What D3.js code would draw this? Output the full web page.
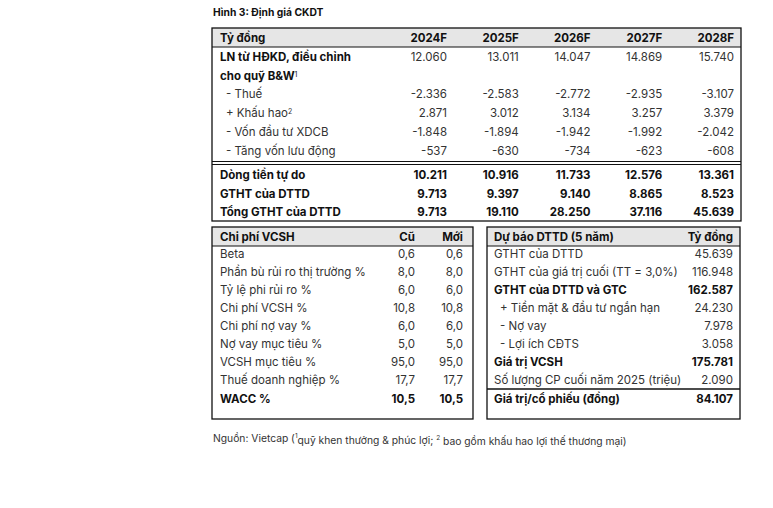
<!DOCTYPE html>
<html>
<head>
<meta charset="utf-8">
<script src="https://cdn.jsdelivr.net/npm/d3@7"></script>
<style>
  body { margin: 0; background: #fff; }
  svg text { font-family: "Inter", "Noto Sans", sans-serif; }
</style>
</head>
<body>
<div id="chart"></div>
<script>
// top table: free cash flow forecast (ty dong)
const years = ["2024F", "2025F", "2026F", "2027F", "2028F"];
const fcfLabels = ["LN từ HĐKD, điều chỉnh", "- Thuế", "+ Khấu hao", "- Vốn đầu tư XDCB", "- Tăng vốn lưu động",
  "Dòng tiền tự do", "GTHT của DTTD", "Tổng GTHT của DTTD"];
const lnHdkd = [12060, 13011, 14047, 14869, 15740];
const thue = [-2336, -2583, -2772, -2935, -3107];
const khauHao = [2871, 3012, 3134, 3257, 3379];
const vonXdcb = [-1848, -1894, -1942, -1992, -2042];
const vonLuuDong = [-537, -630, -734, -623, -608];
const dongTien = [10211, 10916, 11733, 12576, 13361];
const gthtDttd = [9713, 9397, 9140, 8865, 8523];
const tongGtht = [9713, 19110, 28250, 37116, 45639];

// bottom left: cost of equity
const cocHeaders = ["Chi phí VCSH", "Cũ", "Mới"];
const cocLabels = ["Beta", "Phần bù rủi ro thị trường %", "Tỷ lệ phi rủi ro %", "Chi phí VCSH %", "Chi phí nợ vay %",
  "Nợ vay mục tiêu %", "VCSH mục tiêu %", "Thuế doanh nghiệp %", "WACC %"];
const cocOld = [0.6, 8.0, 6.0, 10.8, 6.0, 5.0, 95.0, 17.7, 10.5];
const cocNew = [0.6, 8.0, 6.0, 10.8, 6.0, 5.0, 95.0, 17.7, 10.5];

// bottom right: DCF summary
const dcfHeaders = ["Dự báo DTTD (5 năm)", "Tỷ đồng"];
const dcfLabels = ["GTHT của DTTD", "GTHT của giá trị cuối (TT = 3,0%)", "GTHT của DTTD và GTC", "+ Tiền mặt & đầu tư ngắn hạn",
  "- Nợ vay", "- Lợi ích CĐTS", "Giá trị VCSH", "Số lượng CP cuối năm 2025 (triệu)", "Giá trị/cổ phiếu (đồng)"];
const dcfValues = [45639, 116948, 162587, 24230, 7978, 3058, 175781, 2090, 84107];

const vn = d3.formatLocale({ decimal: ",", thousands: ".", grouping: [3], currency: ["", ""], minus: "-" });
const fmtInt = vn.format(",d");
const fmt1 = vn.format(",.1f");

const W = 773, H = 508;
const svg = d3.select("#chart").append("svg").attr("width", W).attr("height", H);
const ink = "#111", soft = "#333", headFill = "#e6e6e6";
const fs = 11.5;

function txt(g, x, y, s, opt) {
  opt = opt || {};
  return g.append("text")
    .attr("x", x).attr("y", y).attr("dy", "0.35em")
    .attr("text-anchor", opt.anchor || "start")
    .attr("font-size", opt.size || fs)
    .attr("font-weight", opt.bold ? 700 : 400)
    .attr("fill", opt.color || (opt.bold ? ink : soft))
    .text(s);
}
function hline(x1, x2, y, w) {
  svg.append("line").attr("x1", x1).attr("x2", x2).attr("y1", y).attr("y2", y)
    .attr("stroke", ink).attr("stroke-width", w || 1);
}

// title
txt(svg, 213, 12, "Hình 3: Định giá CKDT", { bold: true, size: 10.3 });

// ---------- top table
const tb = { x0: 212, x1: 741, y0: 28, y1: 221 };
svg.append("rect").attr("x", tb.x0).attr("y", tb.y0).attr("width", tb.x1 - tb.x0).attr("height", 19)
  .attr("fill", headFill);
svg.append("rect").attr("x", tb.x0).attr("y", tb.y0).attr("width", tb.x1 - tb.x0).attr("height", tb.y1 - tb.y0)
  .attr("fill", "none").attr("stroke", ink).attr("stroke-width", 1.3);
hline(tb.x0, tb.x1, 47, 1.2);
hline(tb.x0, tb.x1, 161.5, 1);
hline(tb.x0, tb.x1, 164.5, 1);

const xYear = d3.scalePoint().domain(years).range([447, 734]);
const yTop = d3.scaleLinear().domain([0, 1]).range([57, 75.7]);

txt(svg, 220, 37.5, "Tỷ đồng", { bold: true });
years.forEach(y => txt(svg, xYear(y), 37.5, y, { bold: true, anchor: "end" }));

const fcfRows = [
  { label: fcfLabels[0], vals: lnHdkd, slot: 0, boldLabel: true },
  { label: fcfLabels[1], vals: thue, slot: 2, indent: true },
  { label: fcfLabels[2], vals: khauHao, slot: 3, indent: true, sup: "2" },
  { label: fcfLabels[3], vals: vonXdcb, slot: 4, indent: true },
  { label: fcfLabels[4], vals: vonLuuDong, slot: 5, indent: true },
  { label: fcfLabels[5], vals: dongTien, slot: 6.3, bold: true },
  { label: fcfLabels[6], vals: gthtDttd, slot: 7.3, bold: true },
  { label: fcfLabels[7], vals: tongGtht, slot: 8.3, bold: true }
];
fcfRows.forEach(r => {
  const y = yTop(r.slot);
  const t = txt(svg, r.indent ? 226 : 220, y, r.label, { bold: r.bold || r.boldLabel });
  if (r.sup) t.append("tspan").attr("font-size", 7).attr("dy", "-0.45em").text(r.sup);
  r.vals.forEach((v, i) => txt(svg, xYear(years[i]), y, fmtInt(v), { bold: r.bold, anchor: "end" }));
});
// second line of the first label
const l2 = txt(svg, 220, yTop(1), "cho quỹ B&W", { bold: true });
l2.append("tspan").attr("font-size", 7).attr("dy", "-0.45em").attr("font-weight", 400).text("1");

// ---------- bottom tables
const yBot = d3.scaleLinear().domain([0, 1]).range([254, 272]);
const bTop = 227, bBot = 419;

// left: cost of equity
const L = { x0: 212, x1: 473 };
svg.append("rect").attr("x", L.x0).attr("y", bTop).attr("width", L.x1 - L.x0).attr("height", 19).attr("fill", headFill);
svg.append("rect").attr("x", L.x0).attr("y", bTop).attr("width", L.x1 - L.x0).attr("height", bBot - bTop)
  .attr("fill", "none").attr("stroke", ink).attr("stroke-width", 1.3);
hline(L.x0, L.x1, bTop + 19, 1.2);
const xCoc = [415, 463];
txt(svg, 220, 236.5, cocHeaders[0], { bold: true });
txt(svg, xCoc[0], 236.5, cocHeaders[1], { bold: true, anchor: "end" });
txt(svg, xCoc[1], 236.5, cocHeaders[2], { bold: true, anchor: "end" });
cocLabels.forEach((lab, i) => {
  const last = i === cocLabels.length - 1;
  const y = last ? yBot(i) + 0.5 : yBot(i);
  txt(svg, 220, y, lab, { bold: last });
  txt(svg, xCoc[0], y, fmt1(cocOld[i]), { bold: last, anchor: "end" });
  txt(svg, xCoc[1], y, fmt1(cocNew[i]), { bold: last, anchor: "end" });
});

// right: DCF summary
const R = { x0: 487, x1: 740 };
svg.append("rect").attr("x", R.x0).attr("y", bTop).attr("width", R.x1 - R.x0).attr("height", 19).attr("fill", headFill);
svg.append("rect").attr("x", R.x0).attr("y", bTop).attr("width", R.x1 - R.x0).attr("height", bBot - bTop)
  .attr("fill", "none").attr("stroke", ink).attr("stroke-width", 1.3);
hline(R.x0, R.x1, bTop + 19, 1.2);
hline(R.x0, R.x1, 389, 1.3);
txt(svg, 494, 236.5, dcfHeaders[0], { bold: true });
txt(svg, 733, 236.5, dcfHeaders[1], { bold: true, anchor: "end" });
const dcfBold = [2, 6, 8];
dcfLabels.forEach((lab, i) => {
  const b = dcfBold.includes(i);
  const ind = lab.startsWith("+") || lab.startsWith("-");
  const y = i === 8 ? yBot(i) + 0.5 : yBot(i);
  txt(svg, ind ? 500 : 494, y, lab, { bold: b });
  txt(svg, 733, y, fmtInt(dcfValues[i]), { bold: b, anchor: "end" });
});

// footnote
const foot = txt(svg, 213, 438, "Nguồn: Vietcap (", { size: 10.3, color: "#333" });
foot.append("tspan").attr("font-size", 6.5).attr("dy", "-0.5em").text("1");
foot.append("tspan").attr("dy", "0.5em").text("quỹ khen thưởng & phúc lợi; ");
foot.append("tspan").attr("font-size", 6.5).attr("dy", "-0.5em").text("2");
foot.append("tspan").attr("dy", "0.5em").text(" bao gồm khấu hao lợi thế thương mại)");
</script>
</body>
</html>
